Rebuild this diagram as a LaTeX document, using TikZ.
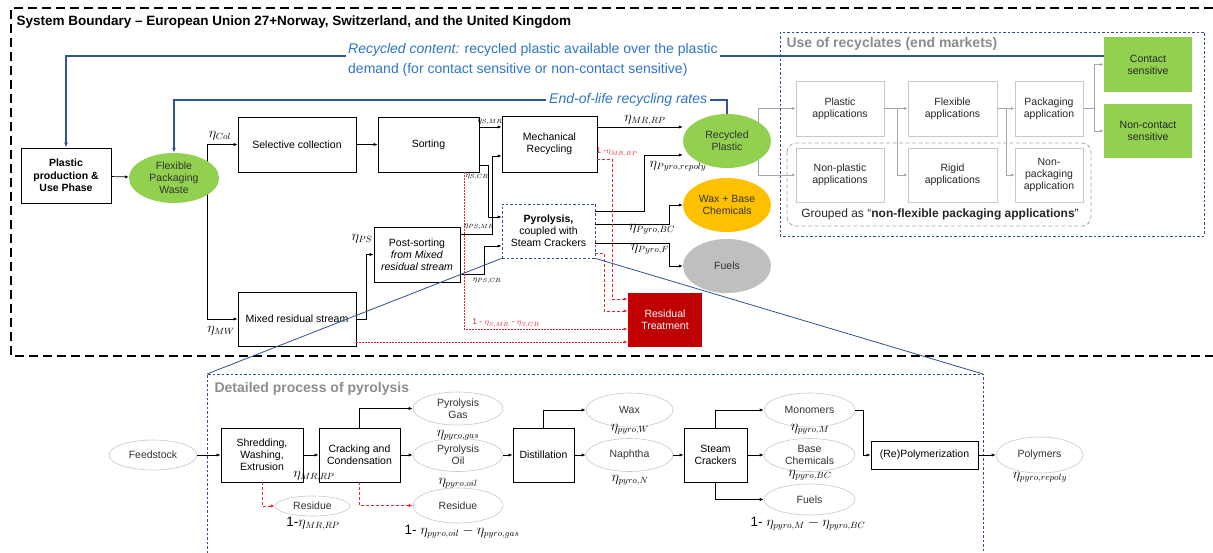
\documentclass[tikz,border=0pt]{standalone}
\usepackage{fontspec}
\setmainfont{Liberation Sans}
\usetikzlibrary{arrows.meta,shapes.geometric,backgrounds}

\definecolor{leaf}{HTML}{92D050}
\definecolor{amber}{HTML}{FFC000}
\definecolor{ash}{HTML}{BFBFBF}
\definecolor{brick}{HTML}{C00000}
\definecolor{linkblue}{HTML}{2F5597}
\definecolor{textblue}{HTML}{2E75C8}
\definecolor{navy}{HTML}{2F4F8F}
\definecolor{scrap}{HTML}{E8262A}
\definecolor{mute}{HTML}{A6A6A6}
\definecolor{rim}{HTML}{C8C8C8}
\definecolor{caption}{HTML}{8C8C8C}

\tikzset{
  sz/.style 2 args={minimum width=#1pt, minimum height=#2pt},
  proc/.style={draw, line width=0.8pt, align=center, inner sep=1pt, font=\fontsize{10.5}{12}\selectfont},
  market/.style={draw=rim, line width=0.8pt, align=center, inner sep=1pt, text=black!85, font=\fontsize{10.5}{12}\selectfont},
  blob/.style={ellipse, inner sep=0pt, align=center, text=black!80, font=\fontsize{10.5}{12}\selectfont},
  stream/.style={blob, draw=rim, fill=white, line width=0.6pt},
  arr/.style={-{Latex[length=4pt,width=3.2pt]}, line width=0.7pt},
  greyarr/.style={-{Latex[length=3.5pt,width=3pt]}, draw=mute, line width=0.8pt},
  bluelink/.style={draw=linkblue, line width=1.2pt, -{Latex[length=5pt,width=4pt]}},
  loss/.style={-{Latex[length=4pt,width=3.2pt]}, draw=scrap, line width=0.7pt, dash pattern=on 3pt off 2pt},
  lossfine/.style={loss, dash pattern=on 1.5pt off 1.5pt},
  navydash/.style={draw=navy, line width=0.8pt, dash pattern=on 2.5pt off 2pt},
  eta/.style={inner sep=0pt, font=\fontsize{13.5}{14}\selectfont},
  etasmall/.style={inner sep=0pt, font=\fontsize{8.5}{9}\selectfont},
}

\begin{document}
\begin{tikzpicture}[x=1pt, y=-1pt]
\useasboundingbox (0,0) rectangle (1213,553);

	% system boundary
	\draw[line width=1.6pt, dash pattern=on 9pt off 5pt] (1213,8) -- (11,8) -- (11,356) -- (1213,356);
	\node[anchor=west, font=\bfseries\fontsize{13.5}{15}\selectfont] (sysb) at (13,22) {System Boundary – European Union 27+Norway, Switzerland, and the United Kingdom};

	% collection and treatment chain
	\node[proc, sz={90}{55}, font=\bfseries\fontsize{10.5}{12.5}\selectfont] (prod) at (66,175.5) {Plastic\\production \&\\Use Phase};
	\node[blob, fill=leaf, sz={90}{50}] (fpw) at (174,178) {Flexible\\Packaging\\Waste};
	\node[proc, sz={118}{55}] (selcol) at (297,144.5) {Selective collection};
	\node[proc, sz={101}{55}] (sort) at (428.5,144.5) {Sorting};
	\node[proc, sz={95}{56}] (mech) at (549.5,144) {Mechanical\\Recycling};
	\node[proc, sz={118}{54}] (mix) at (297,319) {Mixed residual stream};
	\node[proc, sz={86}{55}] (post) at (417,254.5) {Post-sorting\\\textit{from Mixed}\\\textit{residual stream}};
	\node[proc, navydash, sz={93}{54}] (pyro) at (548.5,231) {\textbf{Pyrolysis,}\\coupled with\\Steam Crackers};

	\node[blob, fill=leaf, sz={88}{54}] (recp) at (727,141) {Recycled\\Plastic};
	\node[blob, fill=amber, sz={88}{54}] (waxb) at (727,205) {Wax + Base\\Chemicals};
	\node[blob, fill=ash, sz={88}{54}] (fuel) at (727,266) {Fuels};
	\node[proc, draw=none, fill=brick, text=white, sz={74}{54}] (resid) at (665,320) {Residual\\Treatment};

	% end markets
	\draw[navydash] (780,32) rectangle (1204,236);
	\node[anchor=west, text=caption, font=\bfseries\fontsize{14}{16}\selectfont] (usettl) at (783,44) {Use of recyclates (end markets)};
	\draw[draw=mute, line width=0.8pt, dash pattern=on 4pt off 2.5pt, rounded corners=9pt] (787,143) rectangle (1091,226);
	\node[font=\fontsize{12}{14}\selectfont, text=black!85] (grp) at (940,214) {Grouped as “\textbf{non-flexible packaging applications}”};

	\node[market, sz={88}{55}] (plapp) at (840,108.5) {Plastic\\applications};
	\node[market, sz={89}{55}] (flapp) at (952.5,108.5) {Flexible\\applications};
	\node[market, sz={68}{55}] (pkapp) at (1049,108.5) {Packaging\\application};
	\node[market, sz={88}{54}] (nplapp) at (840,175) {Non-plastic\\applications};
	\node[market, sz={89}{54}] (rigid) at (952.5,175) {Rigid\\applications};
	\node[market, sz={68}{54}] (npkapp) at (1049,175) {Non-\\packaging\\application};
	\node[market, draw=none, fill=leaf, sz={88}{55}] (contact) at (1148,64.5) {Contact\\sensitive};
	\node[market, draw=none, fill=leaf, sz={88}{54}] (noncon) at (1148,131) {Non-contact\\sensitive};

	\draw[greyarr] (plapp) -- (flapp);
	\draw[greyarr] ([xshift=13pt]plapp.east) |- (rigid);
	\draw[greyarr] (flapp) -- (pkapp);
	\draw[greyarr] ([xshift=9pt]flapp.east) |- (npkapp);
	\draw[greyarr] (pkapp.east) -- ++(11,0) |- (contact);
	\draw[greyarr] (pkapp.east) -- ++(11,0) |- (noncon);

	% lines that run behind the ellipses
	\begin{scope}[on background layer]
		\coordinate (fork) at (207,178);
		\draw[arr] (fork) |- (selcol.west);
		\draw[arr] (fork) |- (mix.west);
		\coordinate (rsplit) at (758,141);
		\draw[greyarr] (rsplit) |- (plapp.west);
		\draw[greyarr] (rsplit) |- (nplapp.west);
	\end{scope}

	% indicators fed back (blue)
	\coordinate (rcrow) at (0,56);
	\coordinate (eolrow) at (0,100);
	\draw[bluelink] (contact.west |- rcrow) -| (prod.north);
	\draw[bluelink] (recp.north) -- (recp.north |- eolrow) -| (fpw.north);
	\node[fill=white, text=textblue, align=left, anchor=west, inner sep=2pt, font=\fontsize{14}{19.5}\selectfont] (rctxt) at (346,60) {\textit{Recycled content:} recycled plastic available over the plastic\\demand (for contact sensitive or non-contact sensitive)};
	\node[fill=white, text=textblue, anchor=west, inner sep=3pt, font=\itshape\fontsize{14}{16}\selectfont] (eoltxt) at (546,100) {End-of-life recycling rates};

	% material flows
	\draw[arr] (prod) -- (fpw);
	\draw[arr] (selcol) -- (sort);
	\draw[arr] ([yshift=17.5pt]sort.east) -- ([yshift=17pt]mech.west);
	\draw[arr] ([yshift=-20.5pt]sort.east) -- ++(9,0) |- ([yshift=14pt]pyro.west);
	\draw[arr] ([yshift=20.5pt]post.east) -- ++(32,0) |- ([yshift=-12pt]mech.west);
	\draw[arr] ([yshift=-19.5pt]post.east) -- ++(24,0) |- ([yshift=-15pt]pyro.west);
	\draw[arr] (mix.east) -- ++(10,0) |- (post.west);
	\draw[arr] ([yshift=17pt]mech.east) -- ([yshift=14pt]recp.west);
	\draw[arr] ([yshift=20pt]pyro.east) -- ++(49,0) |- ([yshift=-14pt]recp.west);
	\draw[arr] ([yshift=7pt]pyro.east) -- ++(74,0) |- (waxb.west);
	\draw[arr] ([yshift=-12pt]pyro.east) -- ++(74,0) |- (fuel.west);

	% losses to residual treatment
	\draw[loss] ([yshift=-15pt]mech.east) -- ++(15,0) |- ([yshift=21pt]resid.west);
	\draw[loss] ([yshift=-22pt]pyro.east) -- ++(9,0) |- ([yshift=9pt]resid.west);
	\draw[lossfine] ([xshift=35.5pt]sort.south) |- ([yshift=-9pt]resid.west);
	\draw[lossfine] ([yshift=-23pt]mix.east) -- ([yshift=-22pt]resid.west);

	\node[eta] (lcol) at (220,136) {$\eta_{Col}$};
	\node[eta] (lmw) at (221,331) {$\eta_{MW}$};
	\node[eta] (lps) at (362,239) {$\eta_{PS}$};
	\node[eta] (lmr) at (645,120) {$\eta_{MR,RP}$};
	\node[eta] (lprp) at (678,166) {$\eta_{Pyro,repoly}$};
	\node[eta] (lpbc) at (652,229) {$\eta_{Pyro,BC}$};
	\node[eta] (lpf) at (650,249) {$\eta_{Pyro,F}$};
	\node[etasmall] (lsmr) at (490,122) {$\eta_{S,MR}$};
	\node[etasmall] (lscr) at (477,177) {$\eta_{S,CR}$};
	\node[etasmall] (lpsmr) at (479,227) {$\eta_{PS,MR}$};
	\node[etasmall] (lpscr) at (487,281) {$\eta_{PS,CR}$};
	\node[etasmall, text=scrap] (lmrloss) at (617,152) {1 -$\eta_{MR,RP}$};
	\node[etasmall, text=scrap] (lsloss) at (506,323) {1 - $\eta_{S,MR}$ - $\eta_{S,CR}$};

	% zoom into the pyrolysis step
	\coordinate (dtl) at (207,374);
	\coordinate (dtr) at (983,374);
	\draw[draw=navy, line width=0.8pt] (pyro.south west) -- (dtl);
	\draw[draw=navy, line width=0.8pt] (pyro.south east) -- (dtr);
	\draw[navydash] (207,553) -- (dtl) -- (dtr) -- (983,553);
	\node[anchor=west, text=caption, font=\bfseries\fontsize{14}{16}\selectfont] (dttl) at (211,389) {Detailed process of pyrolysis};

	\node[stream, sz={88}{30}] (feed) at (153,455) {Feedstock};
	\node[proc, sz={82}{54}] (shred) at (262,455) {Shredding,\\Washing,\\Extrusion};
	\node[proc, sz={81}{54}] (crack) at (359.5,455) {Cracking and\\Condensation};
	\node[stream, sz={90}{33}] (gas) at (458,408.5) {Pyrolysis\\Gas};
	\node[stream, sz={90}{33}] (oil) at (458,455) {Pyrolysis\\Oil};
	\node[stream, sz={90}{35}] (res2) at (458,505.5) {Residue};
	\node[stream, sz={75}{20}] (res1) at (312.5,506) {Residue};
	\node[proc, sz={61}{54}] (dist) at (543.5,455) {Distillation};
	\node[stream, sz={87}{34}] (waxd) at (629.5,410) {Wax};
	\node[stream, sz={87}{33}] (naph) at (629.5,455) {Naphtha};
	\node[proc, sz={63}{54}] (steam) at (715.5,455) {Steam\\Crackers};
	\node[stream, sz={91}{34}] (mono) at (809.5,410) {Monomers};
	\node[stream, sz={91}{33}] (basec) at (809.5,455) {Base\\Chemicals};
	\node[stream, sz={91}{31}] (fueld) at (809.5,499.5) {Fuels};
	\node[proc, sz={107}{28}] (repol) at (924.5,455) {(Re)Polymerization};
	\node[stream, sz={87}{36}] (poly) at (1039.5,455) {Polymers};

	\draw[arr] (feed) -- (shred);
	\draw[arr] (shred) -- (crack);
	\draw[arr] (crack) -- (oil);
	\draw[arr] (oil) -- (dist);
	\draw[arr] (dist) -- (naph);
	\draw[arr] (naph) -- (steam);
	\draw[arr] (steam) -- (basec);
	\draw[arr] (repol) -- (poly);
	\draw[arr] (crack.north) |- (gas);
	\draw[arr] (dist.north) |- (waxd);
	\draw[arr] (steam.north) |- (mono);
	\draw[arr] (steam.south) |- (fueld);
	\draw[arr] (mono.east) -- ++(8,0) |- (repol);
	\draw[loss] (shred.south) |- (res1);
	\draw[loss] (crack.south) |- (res2);

	\node[eta] (lshred) at (314,476) {$\eta_{MR,RP}$};
	\node[eta] (lres1) at (313,524) {1-$\eta_{MR,RP}$};
	\node[eta] (lgas) at (458,435) {$\eta_{pyro,gas}$};
	\node[eta] (loil) at (458,483) {$\eta_{pyro,oil}$};
	\node[eta] (lres2) at (462,532) {1- $\eta_{pyro,oil} - \eta_{pyro,gas}$};
	\node[eta] (lwax) at (630,429) {$\eta_{pyro,W}$};
	\node[eta] (lnaph) at (630,480) {$\eta_{pyro,N}$};
	\node[eta] (lmono) at (810,429) {$\eta_{pyro,M}$};
	\node[eta] (lbase) at (810,475) {$\eta_{pyro,BC}$};
	\node[eta] (lfuel) at (808,524) {1- $\eta_{pyro,M} - \eta_{pyro,BC}$};
	\node[eta] (lpoly) at (1040,477) {$\eta_{pyro,repoly}$};

\end{tikzpicture}
\end{document}
